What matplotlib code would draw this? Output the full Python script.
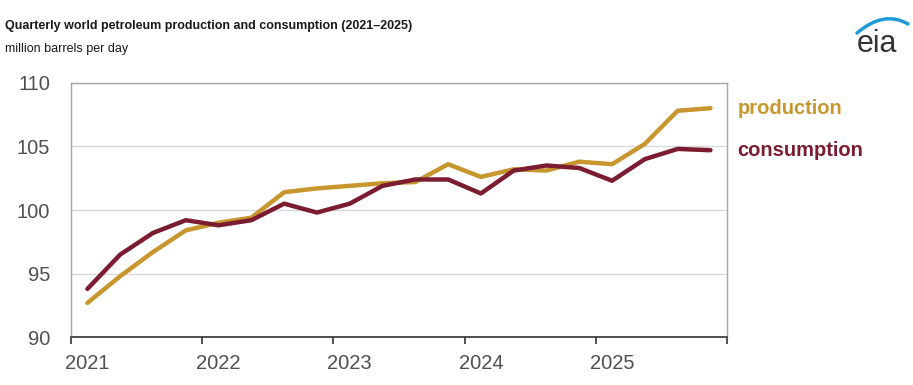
import matplotlib
matplotlib.use("Agg")
import matplotlib.pyplot as plt
from matplotlib.path import Path
from matplotlib.patches import PathPatch
import numpy as np

# quarterly values, 2021Q1 .. 2025Q4 (million barrels per day)
years = [2021, 2022, 2023, 2024, 2025]
quarters = [1, 2, 3, 4]
production = [92.7, 94.8, 96.7, 98.4, 99.0, 99.4, 101.4, 101.7, 101.9, 102.1,
              102.2, 103.6, 102.6, 103.2, 103.1, 103.8, 103.6, 105.2, 107.8, 108.0]
consumption = [93.8, 96.5, 98.2, 99.2, 98.8, 99.2, 100.5, 99.8, 100.5, 101.9,
               102.4, 102.4, 101.3, 103.1, 103.5, 103.3, 102.3, 104.0, 104.8, 104.7]

prod_color = '#c8962e'
cons_color = '#7b1c31'

plt.rcParams['font.family'] = ['Liberation Sans', 'DejaVu Sans']

x = np.array([y + (q - 0.5) / 4 for y in years for q in quarters])

fig = plt.figure(figsize=(9.13, 3.85), dpi=100)
ax = fig.add_axes([0.0778, 0.124, 0.7183, 0.661])

ax.plot(x, production, color=prod_color, lw=3.2, solid_capstyle='round', solid_joinstyle='round', zorder=3)
ax.plot(x, consumption, color=cons_color, lw=3.2, solid_capstyle='round', solid_joinstyle='round', zorder=4)

ax.set_xlim(2021, 2026)
ax.set_ylim(90, 110)
ax.set_yticks([90, 95, 100, 105, 110])
ax.yaxis.grid(True, color='#d9d9d9', lw=1)
ax.set_axisbelow(True)
ax.tick_params(axis='y', length=0, pad=15, labelsize=14.5, labelcolor='#505050')

# year boundaries as tick marks, labels under first quarter
ax.set_xticks(range(2021, 2027))
ax.set_xticklabels([])
ax.tick_params(axis='x', which='major', length=5, width=1.2, color='#333333', direction='out')
ax.set_xticks([y + 0.125 for y in years], minor=True)
ax.set_xticklabels([str(y) for y in years], minor=True)
ax.tick_params(axis='x', which='minor', length=0, pad=12, labelsize=14.5, labelcolor='#505050')

for s in ['top', 'left', 'right']:
    ax.spines[s].set_color('#a6a6a6')
    ax.spines[s].set_linewidth(1)
ax.spines['bottom'].set_color('#333333')
ax.spines['bottom'].set_linewidth(1.2)

# series labels at the right
trans = ax.get_yaxis_transform()
ax.text(1.016, production[-1], 'production', transform=trans, color=prod_color,
        fontsize=14.5, fontweight='bold', va='center', ha='left')
ax.text(1.016, consumption[-1], 'consumption', transform=trans, color=cons_color,
        fontsize=14.5, fontweight='bold', va='center', ha='left')

fig.text(0.005, 0.925, 'Quarterly world petroleum production and consumption (2021\u20132025)',
         fontsize=9.0, fontweight='bold', color='#1a1a1a', va='baseline')
fig.text(0.005, 0.865, 'million barrels per day', fontsize=9.0,
         color='#1a1a1a', va='baseline')

# eia logo
fig.text(0.9385, 0.865, 'eia', fontsize=22, color='#333333', va='baseline', ha='left')
W, H = 913, 385
verts = [(857 / W, 1 - 33 / H), (884 / W, 1 - 10 / H), (908 / W, 1 - 24 / H)]
arc = PathPatch(Path(verts, [Path.MOVETO, Path.CURVE3, Path.CURVE3]), fill=False,
                edgecolor='#1f9ad6', lw=2.5, transform=fig.transFigure, capstyle='round')
fig.patches.append(arc)

fig.savefig('out.png', dpi=100)
